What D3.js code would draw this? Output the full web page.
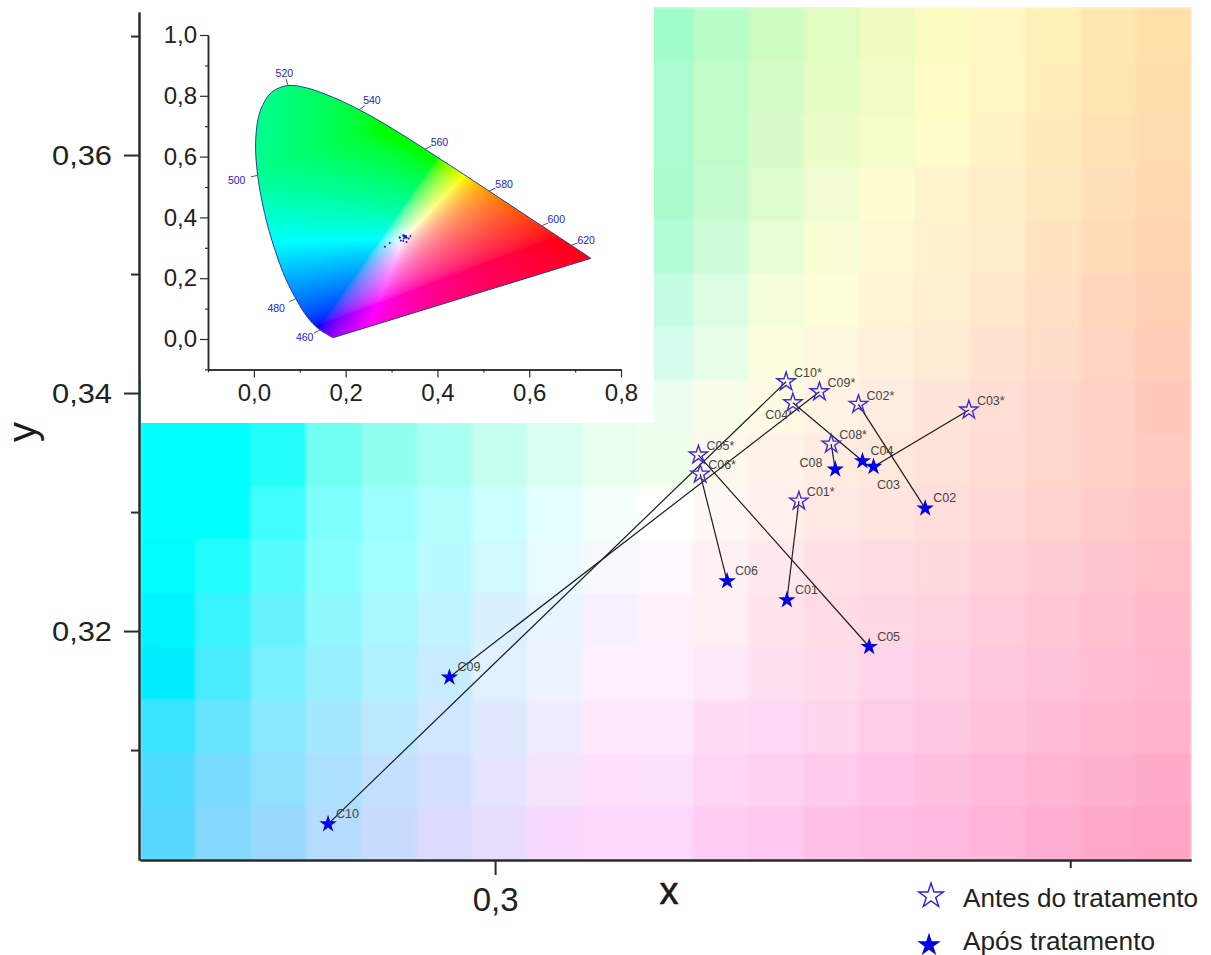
<!DOCTYPE html>
<html>
<head>
<meta charset="utf-8">
<script src="https://d3js.org/d3.v7.min.js"></script>
<style>
    body { margin: 0; background: #fff; }
    text { font-family: "Liberation Sans", Arial, sans-serif; }
</style>
</head>
<body>
<div id="chart"></div>
<script>
// samples
var beforeNames = ["C01*", "C02*", "C03*", "C04*", "C05*", "C06*", "C08*", "C09*", "C10*"];
var beforeX = [0.32641, 0.33159, 0.34119, 0.32589, 0.31768, 0.31783, 0.32922, 0.3282, 0.3253];
var beforeY = [0.33092, 0.33905, 0.33857, 0.33918, 0.33479, 0.33319, 0.33571, 0.34011, 0.34095];

var afterNames = ["C01", "C02", "C03", "C04", "C05", "C06", "C08", "C09", "C10"];
var afterX = [0.32537, 0.33739, 0.3329, 0.33194, 0.33252, 0.32017, 0.32957, 0.29603, 0.28548];
var afterY = [0.32261, 0.33031, 0.33381, 0.33429, 0.31868, 0.3242, 0.33359, 0.31611, 0.30378];

var legendLabels = ["Antes do tratamento", "Após tratamento"];

var majorY = [0.32, 0.34, 0.36];
var minorY = [0.31, 0.33, 0.35, 0.37];
var labelledX = [0.3];
var unlabelledX = [0.35];

// background tiles, top row first, "-" sits behind the inset
var tileRows = [
    "- - - - - - - - - a0fcc8 b8fcc8 ccfcc0 e0fcc0 eefcc0 fafcc0 fff8c0 fff0b8 ffe8b0 ffe0a8",
    "- - - - - - - - - a8fcd0 c0fcc8 d4fcc4 e4fcc4 f0fcc4 fefcc4 fff6c0 ffeeb8 ffe6b0 ffdeac",
    "- - - - - - - - - a8fcd0 c0fcc8 d8fcc8 ecfcc8 f4fcc8 fefcc8 fff2c4 ffeabc ffe2b4 ffdcb0",
    "- - - - - - - - - a8fccc c4fcd0 dcfccc f0fcd0 fdfdd0 fff4cc ffeec8 ffe8c0 ffe0b8 ffd8b0",
    "- - - - - - - - - b4fcd8 ccfcd8 e8fdd4 f8fdd4 fff8d0 fff2cc ffecc8 ffe4c0 ffdcb8 ffd4b0",
    "- - - - - - - - - c4fde4 dcfde4 f4fedc fefed8 fff4d4 ffeed0 ffe8cc ffe0c4 ffd8bc ffd0b4",
    "- - - - - - - - - d4fdec e8fde8 fcfee0 fff8e0 fff0dc ffead4 ffe2d0 ffdcc8 ffd4c0 ffccb8",
    "00ffff 00ffff 20fff8 70fff0 90fff0 a8fff0 c4fff0 d8fff0 e8fff0 eefff0 f8feea fffae4 fff4e4 ffece0 ffe4d8 ffded4 ffd6cc ffd0c4 ffc8bc",
    "00ffff 00ffff 20fff8 70fff0 90fff0 a8fff0 c4fff0 d8fff0 e8fff0 f0ffea fff8ec fff2e8 ffece0 ffe8dc ffe2d8 ffdcd2 ffd6cc ffd0c6 ffcac0",
    "00ffff 00ffff 40fffc 80ffff 9cffff b4ffff ccffff e4ffff f4fffc fffffc fff8f4 fff0ec ffe8e4 ffe4e0 ffdedc ffd8d6 ffd2d0 ffcccb ffc6c4",
    "00fcff 24fcff 58fcff 88ffff a0ffff b8fcff d0f8ff e8fbff f8f8ff fff8fc fff0f4 ffe8ec ffe0e4 ffdce2 ffd8de ffd2da ffccd4 ffc6d0 ffc0c8",
    "00f4ff 38f4ff 68f4ff 90f8ff a8f8ff c0f4ff d8f0ff e8f4ff f8f0ff fff0fc fff0f4 ffe4ec ffdce4 ffd8e4 ffd2e0 ffccda ffc6d4 ffc0d0 ffbacc",
    "00ecff 48ecff 78f0ff 98f0ff b0f0ff c8ecff e0f0ff eef4ff fff0ff fff0ff ffe8f8 ffe0f0 ffdcec ffd4ea ffcee4 ffc8de ffc2d8 ffbed4 ffb8cc",
    "38e4ff 68e4ff 88e8ff a4e8ff bce8ff d0e8ff e0e8ff f0ecff ffe8fc ffe8fc ffdcf4 ffd8f4 ffd4ec ffcce8 ffc8e2 ffc2dc ffbcd6 ffb8d0 ffb2ca",
    "50dcff 78dcff 90e0ff ace0ff c4e0ff d4e0ff e4e4ff f4e4fc ffe0fc fde0fc ffd4f4 ffd0f0 ffcaec ffc4e6 ffc0e0 ffbada ffb4d4 ffb0ce ffaac8",
    "58d8fc 84d8ff 98d8ff b4dcff c8dcff dcdcff e8dcfc f8d8fc fdd8fc fcd8fc ffccf4 ffc8f0 ffc0e8 ffbce4 ffb8de ffb4d8 ffaed2 ffa8cc ffa4c4"
];

// CIE 1931 spectral locus for the inset
var locusX = [0.1741, 0.1733, 0.1714, 0.1689, 0.1644, 0.1566, 0.144, 0.1241, 0.1096, 0.0913, 0.0687, 0.0454, 0.0235, 0.0082, 0.0039, 0.0139, 0.0389, 0.0743, 0.1142, 0.1547, 0.1929, 0.2296, 0.2658, 0.3016, 0.3373, 0.3731, 0.4087, 0.4441, 0.4788, 0.5125, 0.5448, 0.5752, 0.6029, 0.627, 0.6658, 0.6915, 0.7079, 0.719, 0.7347];
var locusY = [0.005, 0.0048, 0.0051, 0.0069, 0.0109, 0.0177, 0.0297, 0.0578, 0.0868, 0.1327, 0.2007, 0.295, 0.4127, 0.5384, 0.6548, 0.7502, 0.812, 0.8338, 0.8262, 0.8059, 0.7816, 0.7543, 0.7243, 0.6923, 0.6589, 0.6245, 0.5896, 0.5547, 0.5202, 0.4866, 0.4544, 0.4242, 0.3965, 0.3725, 0.334, 0.3083, 0.292, 0.2809, 0.2653];

var waveNames = ["460", "480", "500", "520", "540", "560", "580", "600", "620"];
var waveX = [0.144, 0.0913, 0.0082, 0.0743, 0.2296, 0.3731, 0.5125, 0.627, 0.6915];
var waveY = [0.0297, 0.1327, 0.5384, 0.8338, 0.7543, 0.6245, 0.4866, 0.3725, 0.3083];

var insetTicks = [0, 0.2, 0.4, 0.6, 0.8];
var insetTicksY = [0, 0.2, 0.4, 0.6, 0.8, 1];
var insetMinorX = [-0.1, 0.1, 0.3, 0.5, 0.7];
var insetMinorY = [-0.1, 0.1, 0.3, 0.5, 0.7, 0.9];

var width = 1211, height = 955;
var comma = d3.formatLocale({decimal: ",", thousands: ".", grouping: [3], currency: ["", ""]});
var axisColor = "#2b2b2b";
var blue = "#0000e6";

var svg = d3.select("#chart").append("svg")
    .attr("width", width)
    .attr("height", height)
    .style("display", "block");

var x = d3.scaleLinear().domain([0.26913, 0.3605]).range([140, 1191]);
var y = d3.scaleLinear().domain([0.30076, 0.37202]).range([860, 12]);

var columns = d3.scaleBand().domain(d3.range(19)).range([140, 1191]);
var rows = d3.scaleBand().domain(d3.range(16)).range([7, 860]);

var defs = svg.append("defs");
defs.append("filter").attr("id", "soft")
    .attr("x", 0).attr("y", 0).attr("width", 1).attr("height", 1)
    .append("feGaussianBlur").attr("stdDeviation", 1.6);

var tiles = [];
tileRows.forEach(function (row, r) {
    row.split(" ").forEach(function (c, i) {
        if (c !== "-") tiles.push({row: r, col: i, color: "#" + c});
    });
});

svg.append("g")
    .attr("filter", "url(#soft)")
    .selectAll("rect")
    .data(tiles)
    .enter().append("rect")
    .attr("x", d => columns(d.col))
    .attr("y", d => rows(d.row))
    .attr("width", columns.bandwidth() + 0.6)
    .attr("height", rows.bandwidth() + 0.6)
    .attr("fill", d => d.color);

// inset sits on a white panel
svg.append("rect")
    .attr("x", 141).attr("y", 0)
    .attr("width", 513).attr("height", 423)
    .attr("fill", "#fff");

// pairs, before to after
var pairs = svg.append("g");
beforeNames.forEach(function (name, i) {
    pairs.append("line")
        .attr("x1", x(beforeX[i]))
        .attr("y1", y(beforeY[i]))
        .attr("x2", x(afterX[i]))
        .attr("y2", y(afterY[i]))
        .attr("stroke", "#1c1c1c")
        .attr("stroke-width", 1.2);
});

var star = d3.symbol().type(d3.symbolStar);

svg.append("g").selectAll("path")
    .data(beforeNames)
    .enter().append("path")
    .attr("transform", (d, i) => "translate(" + x(beforeX[i]) + "," + y(beforeY[i]) + ")")
    .attr("d", star.size(105)())
    .attr("fill", "none")
    .attr("stroke", "#3a2bd6")
    .attr("stroke-width", 1.4);

svg.append("g").selectAll("path")
    .data(afterNames)
    .enter().append("path")
    .attr("transform", (d, i) => "translate(" + x(afterX[i]) + "," + y(afterY[i]) + ")")
    .attr("d", star.size(95)())
    .attr("fill", blue);

// most labels sit up and to the right, these few were moved by hand
var moved = {"C04*": [-27.7, 12.3], "C03": [3.4, 18.3], "C08": [-35.7, -6.6]};

function addLabels(names, xs, ys, dy) {
    svg.append("g").selectAll("text")
        .data(names)
        .enter().append("text")
        .attr("x", (d, i) => x(xs[i]) + (moved[d] ? moved[d][0] : 8))
        .attr("y", (d, i) => y(ys[i]) + (moved[d] ? moved[d][1] : dy))
        .attr("dy", "0.35em")
        .attr("font-size", 12.5)
        .attr("fill", "#444")
        .text(d => d);
}
addLabels(beforeNames, beforeX, beforeY, -9);
addLabels(afterNames, afterX, afterY, -10.5);

// main axes
var yAxis = svg.append("g")
    .attr("transform", "translate(139,0)")
    .call(d3.axisLeft(y).tickValues(majorY).tickSize(15).tickSizeOuter(0).tickFormat(comma.format(".2f")));
svg.append("g")
    .attr("transform", "translate(139,0)")
    .call(d3.axisLeft(y).tickValues(minorY).tickSize(8).tickSizeOuter(0).tickFormat(""));

yAxis.selectAll("text")
    .attr("x", -27)
    .attr("font-size", 28)
    .attr("textLength", 60)
    .attr("lengthAdjust", "spacingAndGlyphs");

var xAxis = svg.append("g")
    .attr("transform", "translate(0,860)")
    .call(d3.axisBottom(x).tickValues(labelledX).tickSize(15).tickSizeOuter(0).tickFormat(comma.format(".1f")));
svg.append("g")
    .attr("transform", "translate(0,860)")
    .call(d3.axisBottom(x).tickValues(unlabelledX).tickSize(8).tickSizeOuter(0).tickFormat(""));

xAxis.selectAll("text")
    .attr("y", 28)
    .attr("font-size", 33);

svg.selectAll(".domain").attr("stroke", axisColor).attr("stroke-width", 2);
svg.selectAll(".tick line").attr("stroke", axisColor).attr("stroke-width", 2);
svg.selectAll(".tick text").attr("fill", "#222");

svg.append("text")
    .attr("x", 669).attr("y", 904)
    .attr("text-anchor", "middle")
    .attr("font-size", 38)
    .attr("fill", "#1a1a1a")
    .attr("stroke", "#1a1a1a")
    .attr("stroke-width", 0.6)
    .text("x");

svg.append("text")
    .attr("transform", "translate(36,432) rotate(-90)")
    .attr("text-anchor", "middle")
    .attr("font-size", 40)
    .attr("fill", "#1a1a1a")
    .text("y");

// legend
svg.append("path")
    .attr("transform", "translate(931,896)")
    .attr("d", star.size(190)())
    .attr("fill", "none")
    .attr("stroke", "#2a20d8")
    .attr("stroke-width", 1.4);
svg.append("path")
    .attr("transform", "translate(929,945)")
    .attr("d", star.size(170)())
    .attr("fill", blue);

svg.append("text").attr("x", 963).attr("y", 907)
    .attr("font-size", 25).attr("fill", "#222")
    .attr("textLength", 235).attr("lengthAdjust", "spacingAndGlyphs")
    .text(legendLabels[0]);
svg.append("text").attr("x", 963).attr("y", 950)
    .attr("font-size", 25).attr("fill", "#222")
    .attr("textLength", 192).attr("lengthAdjust", "spacingAndGlyphs")
    .text(legendLabels[1]);

// inset chromaticity diagram
var ix = d3.scaleLinear().domain([-0.1, 0.8]).range([208, 621]);
var iy = d3.scaleLinear().domain([-0.1, 1]).range([369.4, 35]);

// colours: barycentric in the triangle the picture clips against
var corners = {r: [0.67, 0.345], g: [0.39, 0.58], b: [0.144, 0.048]};
var neutral = [0.325, 0.332];

function bary(px, py) {
    var c = corners;
    var det = (c.g[1] - c.b[1]) * (c.r[0] - c.b[0]) + (c.b[0] - c.g[0]) * (c.r[1] - c.b[1]);
    var a = ((c.g[1] - c.b[1]) * (px - c.b[0]) + (c.b[0] - c.g[0]) * (py - c.b[1])) / det;
    var b = ((c.b[1] - c.r[1]) * (px - c.b[0]) + (c.r[0] - c.b[0]) * (py - c.b[1])) / det;
    return [a, b, 1 - a - b];
}
var white = bary(neutral[0], neutral[1]);

var cw = 414, ch = 336;
var canvas = document.createElement("canvas");
canvas.width = cw;
canvas.height = ch;
var ctx = canvas.getContext("2d");
var img = ctx.createImageData(cw, ch);
for (var j = 0; j < ch; j++) {
    for (var i = 0; i < cw; i++) {
        var cx = ix.invert(208 + i);
        var w = bary(cx, iy.invert(35 + j));
        var r = Math.max(0, w[0] / white[0]);
        var g = Math.max(0, w[1] / white[1]);
        var b = Math.max(0, w[2] / white[2]);
        var m = Math.max(r, g, b) || 1;
        // green side keeps some blue away from the pure green patch
        if (r === 0 && cx < 0.268) b = Math.max(b, m * 0.25 * (0.268 - cx) / 0.19);
        var k = (i + j * cw) * 4;
        img.data[k] = 255 * Math.pow(r / m, 1 / 1.8);
        img.data[k + 1] = 255 * Math.pow(g / m, 1 / 1.8);
        img.data[k + 2] = 255 * Math.pow(b / m, 1 / 1.8);
        img.data[k + 3] = 255;
    }
}
ctx.putImageData(img, 0, 0);

var locus = d3.line()
    .x(d => ix(locusX[d]))
    .y(d => iy(locusY[d]))
    .curve(d3.curveCatmullRom);
var locusPath = locus(d3.range(locusX.length)) + "Z";

defs.append("clipPath").attr("id", "gamut")
    .append("path").attr("d", locusPath);

svg.append("image")
    .attr("x", 208).attr("y", 35)
    .attr("width", cw).attr("height", ch)
    .attr("href", canvas.toDataURL())
    .attr("clip-path", "url(#gamut)");

svg.append("path")
    .attr("d", locusPath)
    .attr("fill", "none")
    .attr("stroke", "#2a3f9a")
    .attr("stroke-width", 1);

// wavelength marks, pushed out along the direction of each label
var waveDx = [-15.3, -19.6, -21, -3.6, 12.7, 14.3, 15, 14.7, 15];
var waveDy = [7.8, 9.3, 4.7, -12.2, -9, -7.3, -7, -6.2, -5.4];

waveNames.forEach(function (name, i) {
    var len = Math.sqrt(waveDx[i] * waveDx[i] + waveDy[i] * waveDy[i]);
    svg.append("line")
        .attr("x1", ix(waveX[i]))
        .attr("y1", iy(waveY[i]))
        .attr("x2", ix(waveX[i]) + waveDx[i] / len * 7)
        .attr("y2", iy(waveY[i]) + waveDy[i] / len * 7)
        .attr("stroke", "#555")
        .attr("stroke-width", 1);
    svg.append("text")
        .attr("x", ix(waveX[i]) + waveDx[i])
        .attr("y", iy(waveY[i]) + waveDy[i])
        .attr("dy", "0.35em")
        .attr("text-anchor", "middle")
        .attr("font-size", 10.5)
        .attr("fill", "#2222cc")
        .text(name);
});

// the same samples again, very small
var dots = svg.append("g");
[[beforeX, beforeY], [afterX, afterY]].forEach(function (set) {
    set[0].forEach(function (v, i) {
        dots.append("circle")
            .attr("cx", ix(v))
            .attr("cy", iy(set[1][i]))
            .attr("r", 1)
            .attr("fill", "#1a1ad0");
    });
});

var insetY = svg.append("g")
    .attr("transform", "translate(208,0)")
    .call(d3.axisLeft(iy).tickValues(insetTicksY).tickSize(8).tickSizeOuter(0).tickFormat(comma.format(".1f")));
svg.append("g")
    .attr("transform", "translate(208,0)")
    .call(d3.axisLeft(iy).tickValues(insetMinorY).tickSize(3).tickSizeOuter(0).tickFormat(""));
var insetX = svg.append("g")
    .attr("transform", "translate(0,369.4)")
    .call(d3.axisBottom(ix).tickValues(insetTicks).tickSize(8).tickSizeOuter(0).tickFormat(comma.format(".1f")));
svg.append("g")
    .attr("transform", "translate(0,369.4)")
    .call(d3.axisBottom(ix).tickValues(insetMinorX).tickSize(3).tickSizeOuter(0).tickFormat(""));

insetY.selectAll("text").attr("x", -11).attr("font-size", 24).attr("fill", "#222");
insetX.selectAll("text").attr("y", 15).attr("font-size", 24).attr("fill", "#222");
svg.selectAll("image ~ g .domain").attr("stroke", axisColor).attr("stroke-width", 1.5);
svg.selectAll("image ~ g .tick line").attr("stroke", axisColor).attr("stroke-width", 1.2);
</script>
</body>
</html>
